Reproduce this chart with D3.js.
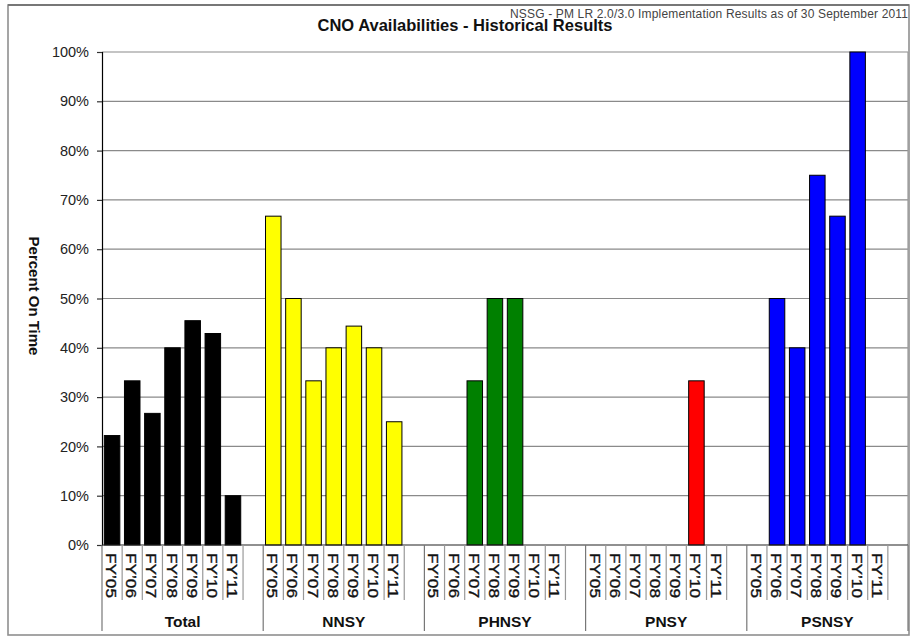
<!DOCTYPE html>
<html>
<head>
<meta charset="utf-8">
<script src="https://cdn.jsdelivr.net/npm/d3@7/dist/d3.min.js"></script>
<style>
  html, body { margin: 0; padding: 0; background: #fff; }
  svg { display: block; font-family: "Liberation Sans", Arial, sans-serif; }
</style>
</head>
<body>
<svg id="chart" width="911" height="637"></svg>
<script>
// Shipyard groups and fiscal years along the category axis
const groups = ["Total", "NNSY", "PHNSY", "PNSY", "PSNSY"];
const years = ["FY’05", "FY’06", "FY’07", "FY’08", "FY’09", "FY’10", "FY’11"];

// Percent of CNO availabilities completed on time, per fiscal year
const totalValues = [22.2, 33.3, 26.7, 40, 45.5, 42.9, 10];
const nnsyValues  = [66.7, 50, 33.3, 40, 44.4, 40, 25];
const phnsyValues = [null, null, 33.3, 50, 50, null, null];
const pnsyValues  = [null, null, null, null, null, 33.3, null];
const psnsyValues = [null, 50, 40, 75, 66.7, 100, null];

const groupColors = ["#000000", "#ffff00", "#008000", "#ff0000", "#0000ff"];
const yTicks = [0, 10, 20, 30, 40, 50, 60, 70, 80, 90, 100];

const title = "CNO Availabilities - Historical Results";
const subtitle = "NSSG - PM LR 2.0/3.0 Implementation Results as of 30 September 2011";
const yTitle = "Percent On Time";

const seriesByGroup = [totalValues, nnsyValues, phnsyValues, pnsyValues, psnsyValues];

// Each group holds the seven years plus one empty spacer slot
const slotsPerGroup = years.length + 1;
const slots = [];
groups.forEach((g, gi) => {
  for (let s = 0; s < slotsPerGroup; s++) {
    slots.push({ key: g + "|" + s, group: gi, year: s < years.length ? years[s] : null,
                 value: s < years.length ? seriesByGroup[gi][s] : null });
  }
});

const svg = d3.select("#chart");
const plot = { left: 102, right: 908, top: 52, bottom: 545 };

const x = d3.scaleBand().domain(slots.map(d => d.key)).range([plot.left, plot.right]).padding(0);
const y = d3.scaleLinear().domain([0, 100]).range([plot.bottom, plot.top]);
const bw = x.bandwidth();
const barW = bw * 0.77;

// Outer frame
svg.append("rect").attr("x", 8).attr("y", 5).attr("width", 901).attr("height", 630)
  .attr("fill", "#fff").attr("stroke", "#8f8f8f").attr("stroke-width", 1.6);
svg.append("line").attr("x1", 8).attr("x2", 909).attr("y1", 5).attr("y2", 5)
  .attr("stroke", "#777").attr("stroke-width", 2);

// Horizontal gridlines
svg.append("g").selectAll("line").data(yTicks.filter(t => t > 0)).join("line")
  .attr("x1", plot.left).attr("x2", plot.right)
  .attr("y1", d => y(d)).attr("y2", d => y(d))
  .attr("stroke", "#8a8a8a").attr("stroke-width", 1.2);

// Plot area right border
svg.append("line").attr("x1", plot.right).attr("x2", plot.right)
  .attr("y1", plot.top).attr("y2", plot.bottom).attr("stroke", "#9a9a9a").attr("stroke-width", 1.2);

// Bars
svg.append("g").selectAll("rect").data(slots.filter(d => d.value != null)).join("rect")
  .attr("x", d => x(d.key) + (bw - barW) / 2)
  .attr("width", barW)
  .attr("y", d => y(d.value))
  .attr("height", d => y(0) - y(d.value))
  .attr("fill", d => groupColors[d.group])
  .attr("stroke", "#000").attr("stroke-width", 1);

// Y axis
const yAxis = d3.axisLeft(y).tickValues(yTicks).tickFormat(d => d + "%").tickSize(5).tickPadding(8);
const yg = svg.append("g").attr("transform", `translate(${plot.left},0)`).call(yAxis);
yg.select(".domain").attr("stroke", "#000").attr("stroke-width", 1.2);
yg.selectAll(".tick line").attr("stroke", "#333").attr("stroke-width", 1.2);
yg.selectAll(".tick text").attr("font-size", 14.5).attr("fill", "#222")
  .attr("font-family", "'Liberation Sans', Arial, sans-serif");

// X baseline
svg.append("line").attr("x1", plot.left).attr("x2", plot.right)
  .attr("y1", y(0)).attr("y2", y(0)).attr("stroke", "#222").attr("stroke-width", 1.2);

// Category dividers: short ticks between years, long lines between groups
const boundaries = d3.range(0, slots.length + 1);
svg.append("g").selectAll("line").data(boundaries).join("line")
  .attr("x1", i => i < slots.length ? x(slots[i].key) : plot.right)
  .attr("x2", i => i < slots.length ? x(slots[i].key) : plot.right)
  .attr("y1", plot.bottom)
  .attr("y2", i => (i % slotsPerGroup === 0) ? 631 : 600)
  .attr("stroke", i => (i % slotsPerGroup === 0) ? "#777" : "#999")
  .attr("stroke-width", 1.2)
  .attr("display", i => (i % slotsPerGroup === 0 || i % slotsPerGroup <= years.length) ? null : "none");

// Year labels, rotated to read downward
svg.append("g").selectAll("text").data(slots.filter(d => d.year)).join("text")
  .attr("transform", d => `translate(${x(d.key) + bw / 2 - 1},553) rotate(90)`)
  .attr("dominant-baseline", "central")
  .attr("font-size", 14).attr("fill", "#111")
  .attr("stroke", "#111").attr("stroke-width", 0.35)
  .attr("textLength", 45).attr("lengthAdjust", "spacingAndGlyphs")
  .text(d => d.year);

// Group labels
svg.append("g").selectAll("text").data(groups).join("text")
  .attr("x", (g, gi) => x(slots[gi * slotsPerGroup].key) + bw * slotsPerGroup / 2)
  .attr("y", 627)
  .attr("text-anchor", "middle")
  .attr("font-size", 15.5).attr("font-weight", "bold").attr("fill", "#111")
  .text(g => g);

// Y axis title
svg.append("text")
  .attr("transform", "translate(29,296) rotate(90)")
  .attr("text-anchor", "middle")
  .attr("font-size", 15).attr("font-weight", "bold").attr("fill", "#111")
  .text(yTitle);

// Subtitle and title
svg.append("text").attr("x", 908).attr("y", 18).attr("text-anchor", "end")
  .attr("font-size", 12).attr("fill", "#444")
  .attr("textLength", 398).attr("lengthAdjust", "spacing")
  .text(subtitle);

svg.append("text").attr("x", 465).attr("y", 31).attr("text-anchor", "middle")
  .attr("font-size", 16.5).attr("font-weight", "bold").attr("fill", "#111")
  .text(title);
</script>
</body>
</html>
